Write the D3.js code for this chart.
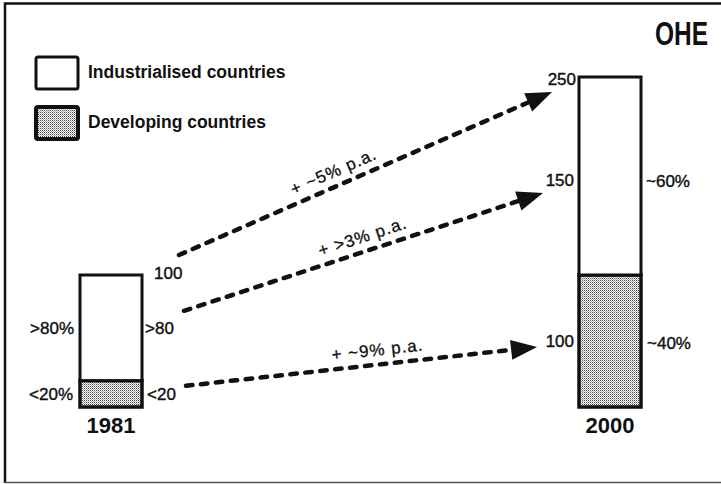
<!DOCTYPE html>
<html>
<head>
<meta charset="utf-8">
<script src="https://cdn.jsdelivr.net/npm/d3@7"></script>
<style>
  html, body { margin: 0; padding: 0; background: #fff; }
  svg text { font-family: "Liberation Sans", Arial, Helvetica, sans-serif; fill: #111; }
</style>
</head>
<body>
<svg id="chart" width="721" height="484"></svg>
<script>
// Market size (index, 1981 total = 100) split by country group
const years = ["1981", "2000"];
const industrialised = [80, 150];
const developing = [20, 100];
const industrialisedLabels = [">80", "150"];
const developingLabels = ["<20", "100"];
const industrialisedShares = [">80%", "~60%"];
const developingShares = ["<20%", "~40%"];
const growthLabels = ["+ ~5% p.a.", "+ >3% p.a.", "+ ~9% p.a."];
const legendLabels = ["Industrialised countries", "Developing countries"];

const totals = years.map((_, i) => industrialised[i] + developing[i]);

const svg = d3.select("#chart");
const ink = "#111";

// Stippled fill for developing countries
const defs = svg.append("defs");
const pat = defs.append("pattern")
  .attr("id", "stipple").attr("patternUnits", "userSpaceOnUse")
  .attr("width", 2).attr("height", 2);
pat.append("rect").attr("width", 2).attr("height", 2).attr("fill", "#fff");
pat.append("rect").attr("x", 0).attr("y", 0).attr("width", 1).attr("height", 1).attr("fill", "#444");
pat.append("rect").attr("x", 1).attr("y", 1).attr("width", 1).attr("height", 1).attr("fill", "#aaa");

// Frame
svg.append("path")
  .attr("d", "M5,483 L5,3.5 L721,3.5")
  .attr("fill", "none").attr("stroke", ink).attr("stroke-width", 2.5);
svg.append("line")
  .attr("x1", 5).attr("x2", 721).attr("y1", 482.5).attr("y2", 482.5)
  .attr("stroke", "#555").attr("stroke-width", 1.5);

// Scales
const x = d3.scalePoint().domain(years).range([111, 610]);
const y = d3.scaleLinear().domain([0, 250]).range([407, 77]);
const barW = 62;

// Legend
const legend = svg.append("g");
legendLabels.forEach((lab, i) => {
  const ly = 57 + i * 50;
  legend.append("rect")
    .attr("x", 36).attr("y", ly).attr("width", 42).attr("height", 32)
    .attr("rx", 2)
    .attr("fill", i === 0 ? "#fff" : "url(#stipple)")
    .attr("stroke", ink).attr("stroke-width", i === 0 ? 3 : 4);
  legend.append("text")
    .attr("x", 88).attr("y", ly + 21)
    .attr("font-size", 17.5).attr("font-weight", "bold")
    .text(lab);
});

// Logo
svg.append("text")
  .attr("transform", "translate(655,45) scale(1,1.35)")
  .attr("font-size", 24.5).attr("font-weight", "bold")
  .text("OHE");

// Stacked bars
const bars = svg.append("g");
years.forEach((yr, i) => {
  const cx = x(yr);
  const x0 = cx - barW / 2;
  // developing (bottom)
  bars.append("rect")
    .attr("x", x0).attr("y", y(developing[i]))
    .attr("width", barW).attr("height", y(0) - y(developing[i]))
    .attr("fill", "url(#stipple)").attr("stroke", ink).attr("stroke-width", 3.5);
  // industrialised (top)
  bars.append("rect")
    .attr("x", x0).attr("y", y(totals[i]))
    .attr("width", barW).attr("height", y(developing[i]) - y(totals[i]))
    .attr("fill", "#fff").attr("stroke", ink).attr("stroke-width", 3);
  // year label
  bars.append("text")
    .attr("x", cx).attr("y", 433)
    .attr("text-anchor", "middle").attr("font-size", 22).attr("font-weight", "bold")
    .text(yr);
});

// Value and share labels
const fs = 17;
const mid = (a, b) => (y(a) + y(b)) / 2;
const labels = svg.append("g").attr("font-size", fs)
  .attr("stroke", ink).attr("stroke-width", 0.4);
const b0 = x(years[0]), b1 = x(years[1]);

// 1981
labels.append("text").attr("x", b0 + barW / 2 + 12).attr("y", y(totals[0]) + 4).text(String(totals[0]));
labels.append("text").attr("x", b0 + barW / 2 + 3).attr("y", mid(totals[0], developing[0]) + 6).text(industrialisedLabels[0]);
labels.append("text").attr("x", b0 + barW / 2 + 5).attr("y", mid(developing[0], 0) + 6).text(developingLabels[0]);
labels.append("text").attr("x", b0 - barW / 2 - 6).attr("y", mid(totals[0], developing[0]) + 6)
  .attr("text-anchor", "end").text(industrialisedShares[0]);
labels.append("text").attr("x", b0 - barW / 2 - 7).attr("y", mid(developing[0], 0) + 6)
  .attr("text-anchor", "end").text(developingShares[0]);

// 2000
labels.append("text").attr("x", b1 - barW / 2 - 3).attr("y", y(totals[1]) + 8)
  .attr("text-anchor", "end").text(String(totals[1]));
labels.append("text").attr("x", b1 - barW / 2 - 5).attr("y", mid(totals[1], developing[1]) + 10)
  .attr("text-anchor", "end").text(industrialisedLabels[1]);
labels.append("text").attr("x", b1 - barW / 2 - 5).attr("y", mid(developing[1], 0) + 6)
  .attr("text-anchor", "end").text(developingLabels[1]);
labels.append("text").attr("x", b1 + barW / 2 + 5).attr("y", mid(totals[1], developing[1]) + 11)
  .text(industrialisedShares[1]);
labels.append("text").attr("x", b1 + barW / 2 + 6).attr("y", mid(developing[1], 0) + 8)
  .text(developingShares[1]);

// Growth arrows: total, industrialised, developing
const arrows = [
  { from: [b0 + barW / 2 + 37, y(totals[0]) - 20], to: [b1 - barW / 2 - 27, y(totals[1]) + 15], t: 0.43 },
  { from: [b0 + barW / 2 + 42, mid(totals[0], developing[0]) - 17], to: [b1 - barW / 2 - 36, mid(totals[1], developing[1]) + 17], t: 0.51 },
  { from: [b0 + barW / 2 + 44, mid(developing[0], 0) - 8], to: [b1 - barW / 2 - 42, mid(developing[1], 0) + 6], t: 0.55 }
];

const ag = svg.append("g");
arrows.forEach((a, i) => {
  const [x1, y1] = a.from, [x2, y2] = a.to;
  const dx = x2 - x1, dy = y2 - y1;
  const len = Math.hypot(dx, dy);
  const ux = dx / len, uy = dy / len;
  const headL = 26, headW = 10;
  const bx = x2 - ux * headL, by = y2 - uy * headL;
  ag.append("line")
    .attr("x1", x1).attr("y1", y1).attr("x2", bx + ux * 2).attr("y2", by + uy * 2)
    .attr("stroke", ink).attr("stroke-width", 4.5)
    .attr("stroke-linecap", "round").attr("stroke-dasharray", "6.5,8.5");
  const px = -uy, py = ux;
  ag.append("path")
    .attr("d", d3.line()([[x2, y2], [bx + px * headW, by + py * headW], [bx - px * headW, by - py * headW]]) + "Z")
    .attr("fill", ink);
  // growth label along the arrow
  const mx = x1 + dx * a.t, my = y1 + dy * a.t;
  const ang = Math.atan2(dy, dx) * 180 / Math.PI;
  ag.append("text")
    .attr("transform", `translate(${mx + px * -9},${my + py * -9}) rotate(${ang})`)
    .attr("text-anchor", "middle").attr("font-size", 17)
    .attr("letter-spacing", 1)
    .attr("stroke", ink).attr("stroke-width", 0.3)
    .text(growthLabels[i]);
});
</script>
</body>
</html>
